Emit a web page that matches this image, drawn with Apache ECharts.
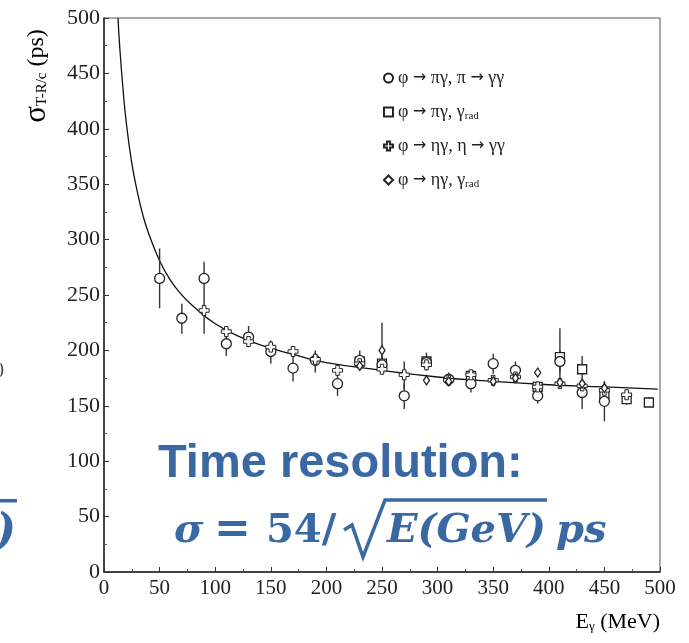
<!DOCTYPE html>
<html><head><meta charset="utf-8">
<script src="https://cdn.jsdelivr.net/npm/echarts@6/dist/echarts.min.js"></script>
<style>html,body{margin:0;padding:0;background:#fff}#c{width:689px;height:643px}</style>
</head><body><div id="c"></div>
<script>
// [E (MeV), sigma (ps), error low, error high]
const circlePts = [
  [50,265,238,292],[70,229,215,242],[90,265,250,280],[110,206,195,218],[130,212,203,222],
  [150,199,188,209],[170,184,172,194],[190,191,180,200],[210,170,159,180],[230,191,183,200],
  [250,187,178,196],[270,159,147,170],[290,189,182,198],[310,174,168,180],[330,170,162,177],
  [350,188,179,197],[370,182,175,190],[390,159,152,166],[410,190,180,200],[430,162,147,172],
  [450,154,136,163]
];
const squarePts = [
  [230,190,185,195],[250,188,183,193],[290,190,185,195],[330,177,173,181],[390,167,163,171],
  [410,194,175,220],[430,183,170,195],[450,159,150,168],[470,156,151,162],[490,153,149,158]
];
const crossPts = [
  [90,236,215,250],[110,217,210,222],[130,208,203,213],[150,203,198,208],[170,199,194,204],
  [190,192,187,198],[210,182,177,187],[230,188,184,192],[250,183,179,188],[270,178,165,190],
  [290,187,182,191],[310,173,169,177],[330,178,174,181],[350,173,170,176],[370,176,172,180],
  [390,167,163,171],[410,170,166,175],[430,168,163,172],[450,164,159,172],[470,160,157,164]
];
const diamondPts = [
  [230,186,182,190],[250,200,180,225],[290,173,169,178],[310,172,168,176],[350,172,169,175],
  [370,175,171,178],[390,180,176,184],[410,171,167,175],[430,170,166,174],[450,166,160,172]
];
// fitted curve
const fitCurve = [
  [12.6,500],[14,476],[17,437],[20,406],[25,369],[30,343],[35,322],[40,306],[50,281],[60,263],
  [70,250],[80,240],[100,224],[125,211],[150,202],[175,195],[200,189],[250,182],[300,176],
  [350,172],[400,169],[450,167],[498,165]
];
const names = ['φ → πγ, π → γγ', 'φ → πγ, γrad', 'φ → ηγ, η → γγ', 'φ → ηγ, γrad'];
const xTicks = [0,50,100,150,200,250,300,350,400,450,500];
const yTicks = [0,50,100,150,200,250,300,350,400,450,500];

const SERIF = '"Liberation Serif","DejaVu Serif",serif';
const BLUE = '#3a68a2';
const crossPath = 'path://M2.6,0 H5.4 V2.6 H8 V5.4 H5.4 V8 H2.6 V5.4 H0 V2.6 H2.6 Z';

function errSeries(pts){
  return {
    type:'custom', silent:true, z:2,
    data: pts.map(p=>[p[0],p[2],p[3]]),
    encode:{x:0,y:[1,2]},
    renderItem:(params, api)=>{
      const a = api.coord([api.value(0), api.value(1)]);
      const b = api.coord([api.value(0), api.value(2)]);
      return {type:'line', shape:{x1:a[0],y1:a[1],x2:b[0],y2:b[1]}, style:{stroke:'#333', lineWidth:1.4}};
    }
  };
}
function markerSeries(name, pts, symbol, size, z, bw){
  return {
    name, type:'scatter', symbol, symbolSize:size, z,
    data: pts.map(p=>[p[0],p[1]]),
    itemStyle:{color:'#fff', borderColor:'#222', borderWidth:bw||1.3, opacity:1},
    emphasis:{disabled:true}
  };
}
function legendText(n){
  let s = n, sub = '';
  if (n.endsWith('γrad')) { s = n.slice(0,-3); sub = '{s|rad}'; }
  return s.split('→').map(part => '{a|' + part + '}').join('{r|→}') + sub;
}

const chart = echarts.init(document.getElementById('c'), null, {renderer:'canvas'});
chart.setOption({
  animation:false,
  backgroundColor:'#fff',
  grid:{left:104, right:29, top:18, bottom:71, show:true, borderColor:'#555', borderWidth:1, backgroundColor:'transparent'},
  xAxis:{
    type:'value', min:0, max:500, interval:50,
    axisLine:{show:true, onZero:false, lineStyle:{color:'#222', width:1.5}},
    axisTick:{show:true, inside:true, length:5, lineStyle:{color:'#333'}},
    minorTick:{show:true, splitNumber:2, length:3, lineStyle:{color:'#555'}},
    splitLine:{show:false},
    axisLabel:{color:'#222', fontFamily:SERIF, fontSize:21, margin:6,
      formatter:v=>xTicks.includes(v)?String(v):''}
  },
  yAxis:{
    type:'value', min:0, max:500, interval:50,
    axisLine:{show:true, onZero:false, lineStyle:{color:'#222', width:1.5}},
    axisTick:{show:true, inside:true, length:5, lineStyle:{color:'#333'}},
    minorTick:{show:true, splitNumber:2, length:3, lineStyle:{color:'#555'}},
    splitLine:{show:false},
    axisLabel:{color:'#222', fontFamily:SERIF, fontSize:22, margin:4,
      formatter:v=>yTicks.includes(v)?String(v):''}
  },
  legend:{
    data:names, orient:'vertical', left:378, top:64, itemGap:15,
    itemWidth:9, itemHeight:9, selectedMode:false,
    formatter:legendText,
    textStyle:{rich:{
      a:{fontFamily:SERIF, fontSize:18, color:'#222', lineHeight:20},
      r:{fontFamily:'"DejaVu Sans",sans-serif', fontSize:16, color:'#222', lineHeight:20},
      s:{fontFamily:SERIF, fontSize:11, color:'#222', lineHeight:20, padding:[9,0,0,0]}
    }}
  },
  series:[
    {type:'line', data:fitCurve, smooth:true, showSymbol:false, symbol:'none', z:1,
      lineStyle:{color:'#111', width:1.3}, silent:true},
    errSeries(squarePts), errSeries(circlePts), errSeries(crossPts), errSeries(diamondPts),
    markerSeries(names[1], squarePts, 'rect', 9, 3),
    markerSeries(names[0], circlePts, 'circle', 10, 4),
    markerSeries(names[2], crossPts, crossPath, 10, 5, 1),
    markerSeries(names[3], diamondPts, 'diamond', [6,9], 6)
  ],
  graphic:[
    {type:'text', x:37, y:76, rotation:Math.PI/2, style:{
      text:'{a|σ}{s|T-R/c}{b| (ps)}', align:'center', verticalAlign:'middle',
      rich:{a:{fontFamily:SERIF, fontSize:31, color:'#222', lineHeight:30},
            s:{fontFamily:SERIF, fontSize:15, color:'#222', lineHeight:30, padding:[11,0,0,0]},
            b:{fontFamily:SERIF, fontSize:24, color:'#222', lineHeight:30}}}},
    {type:'text', x:660, y:622, style:{
      text:'{a|E}{s|γ}{a| (MeV)}', align:'right', verticalAlign:'middle',
      rich:{a:{fontFamily:SERIF, fontSize:22, color:'#222', lineHeight:24},
            s:{fontFamily:SERIF, fontSize:13, color:'#222', lineHeight:24, padding:[9,0,0,0]}}}},
    // fragments from the neighbouring slide content at the left edge
    {type:'text', x:-6, y:372, style:{text:'0', fontFamily:SERIF, fontSize:20, fill:'#444', verticalAlign:'middle'}},
    {type:'rect', shape:{x:0, y:499, width:17, height:3.5}, style:{fill:BLUE}},
    {type:'text', x:16, y:534, style:{text:')', fontFamily:'"DejaVu Serif",serif', fontStyle:'italic', fontWeight:'bold', fontSize:44, fill:BLUE, align:'right', verticalAlign:'middle'}},
    // annotation
    {type:'text', x:158, y:464, z:10, style:{text:'Time resolution:', fontFamily:'"Liberation Sans",Arial,sans-serif', fontWeight:'bold', fontSize:47, fill:BLUE, verticalAlign:'middle'}},
    {type:'text', x:174, y:532, z:10, style:{text:'σ', fontFamily:'"DejaVu Serif",serif', fontStyle:'italic', fontWeight:'bold', fontSize:40, fill:BLUE, verticalAlign:'middle'}},
    {type:'text', x:214, y:532, z:10, style:{text:'=', fontFamily:'"DejaVu Serif",serif', fontWeight:'bold', fontSize:44, fill:BLUE, verticalAlign:'middle'}},
    {type:'text', x:266, y:532, z:10, style:{text:'54/', fontFamily:'"DejaVu Serif",serif', fontWeight:'bold', fontSize:40, fill:BLUE, verticalAlign:'middle'}},
    {type:'polyline', z:10, shape:{points:[[344,530],[352,525],[363,557],[385,500],[547,500]]}, style:{stroke:BLUE, lineWidth:3.5, fill:null, lineJoin:'miter'}},
    {type:'text', x:387, y:532, z:10, style:{text:'E(GeV)', fontFamily:'"DejaVu Serif",serif', fontStyle:'italic', fontWeight:'bold', fontSize:40, fill:BLUE, verticalAlign:'middle'}},
    {type:'text', x:556, y:532, z:10, style:{text:'ps', fontFamily:'"DejaVu Serif",serif', fontStyle:'italic', fontWeight:'bold', fontSize:40, fill:BLUE, verticalAlign:'middle'}}
  ]
});
</script>
</body></html>
